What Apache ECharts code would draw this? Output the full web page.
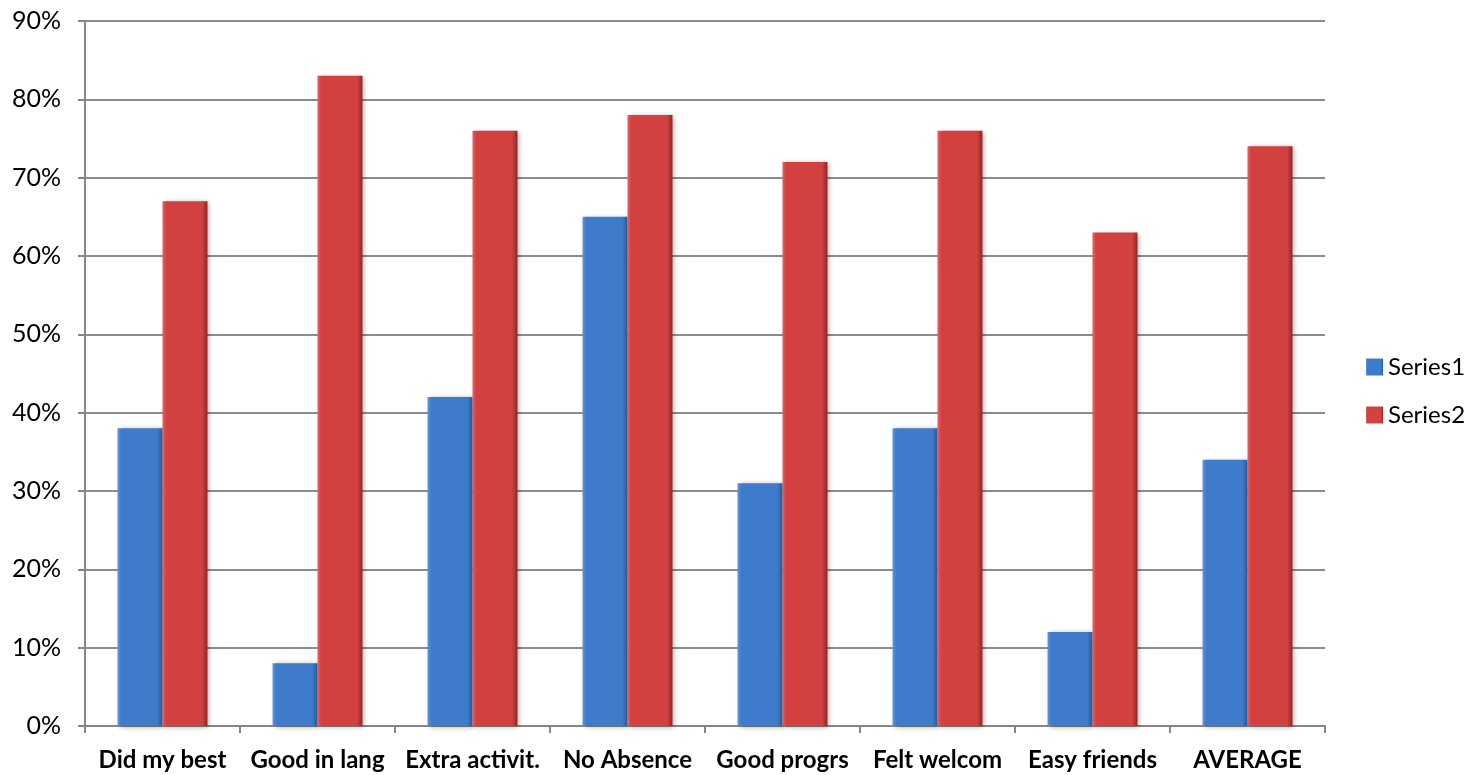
<!DOCTYPE html>
<html>
<head>
<meta charset="utf-8">
<script src="https://cdn.jsdelivr.net/npm/echarts@6/dist/echarts.min.js"></script>
<style>
  html, body { margin: 0; padding: 0; background: #ffffff; }
  #chart { width: 1474px; height: 775px; }
</style>
</head>
<body>
<div id="chart"></div>
<script>
// Survey results per question, as percentages
const categories = ['Did my best', 'Good in lang', 'Extra activit.', 'No Absence', 'Good progrs', 'Felt welcom', 'Easy friends', 'AVERAGE'];
const series1 = [38, 8, 42, 65, 31, 38, 12, 34];
const series2 = [67, 83, 76, 78, 72, 76, 63, 74];
const yTicks = [0, 10, 20, 30, 40, 50, 60, 70, 80, 90];

const FONT = 'Lato, "Open Sans", sans-serif';

// Bevelled-looking fill: lighter left, darker right edge
function barFill(light, mid, dark) {
  return new echarts.graphic.LinearGradient(0, 0, 1, 0, [
    { offset: 0, color: light },
    { offset: 0.08, color: mid },
    { offset: 0.88, color: mid },
    { offset: 1, color: dark }
  ]);
}

const chart = echarts.init(document.getElementById('chart'), null, { renderer: 'canvas' });

chart.setOption({
  animation: false,
  backgroundColor: '#ffffff',
  grid: { left: 85, right: 149, top: 21, bottom: 49, containLabel: false },
  legend: {
    orient: 'vertical',
    left: 1366,
    top: 355,
    padding: 0,
    itemWidth: 17,
    itemHeight: 17,
    itemGap: 24,
    icon: 'rect',
    textStyle: { fontFamily: FONT, fontSize: 24, color: '#000000' },
    data: ['Series1', 'Series2']
  },
  xAxis: {
    type: 'category',
    data: categories,
    axisLine: { lineStyle: { color: '#868686', width: 2 } },
    axisTick: { show: true, length: 7, lineStyle: { color: '#868686', width: 2 } },
    axisLabel: { fontFamily: FONT, fontWeight: 'bold', fontSize: 24, color: '#000000', margin: 22, interval: 0 },
    splitLine: { show: false }
  },
  yAxis: {
    type: 'value',
    min: 0,
    max: 90,
    interval: 10,
    axisLine: { show: true, lineStyle: { color: '#868686', width: 2 } },
    axisTick: { show: true, length: 7, lineStyle: { color: '#868686', width: 2 } },
    axisLabel: {
      fontFamily: FONT, fontSize: 25, color: '#000000', margin: 24,
      formatter: v => yTicks.includes(v) ? v + '%' : ''
    },
    splitLine: { show: true, lineStyle: { color: '#8c8c8c', width: 2 } }
  },
  series: [
    {
      name: 'Series1',
      type: 'bar',
      data: series1,
      barGap: '0%',
      barCategoryGap: '42%',
      itemStyle: {
        color: barFill('#5b97dd', '#3e7ccb', '#2a5a98'),
        shadowColor: 'rgba(0,0,0,0.35)',
        shadowBlur: 5,
        shadowOffsetX: 2,
        shadowOffsetY: 1
      }
    },
    {
      name: 'Series2',
      type: 'bar',
      data: series2,
      barGap: '0%',
      barCategoryGap: '42%',
      itemStyle: {
        color: barFill('#e86262', '#d24140', '#8f2626'),
        shadowColor: 'rgba(0,0,0,0.35)',
        shadowBlur: 5,
        shadowOffsetX: 2,
        shadowOffsetY: 1
      }
    }
  ]
});
</script>
</body>
</html>
